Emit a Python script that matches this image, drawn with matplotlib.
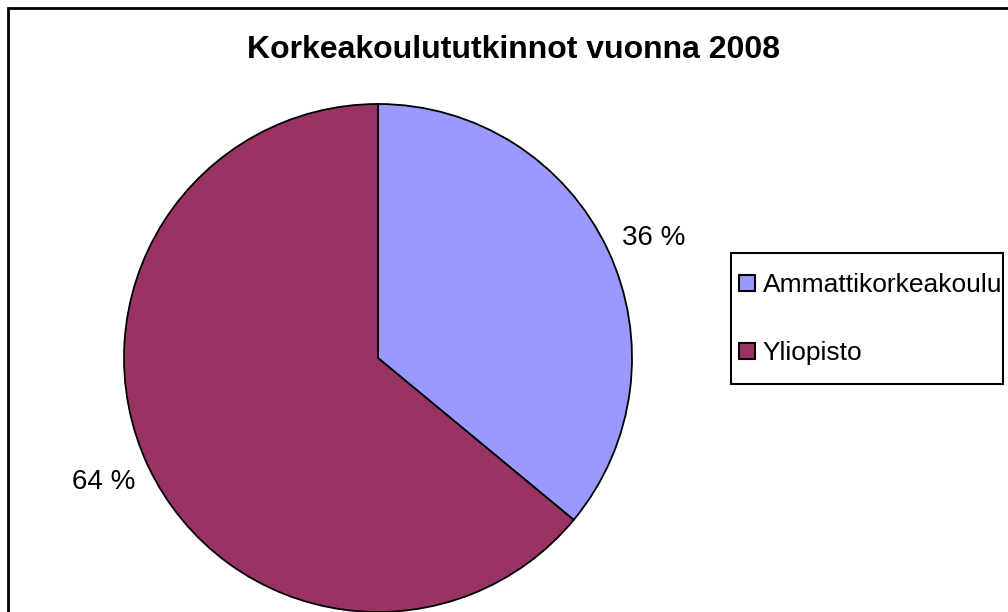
import matplotlib.pyplot as plt
from matplotlib.patches import Rectangle
from matplotlib.lines import Line2D

plt.rcParams['font.family'] = ['Liberation Sans', 'DejaVu Sans']

categories = ['Ammattikorkeakoulu', 'Yliopisto']
shares = [36, 64]
colors = ['#9999FF', '#993366']
pct_labels = ['36 %', '64 %']

W, H = 1008, 612
fig = plt.figure(figsize=(W / 100, H / 100), dpi=100)

# pie centre ~ (378, 358) px, radius ~254 px
cx, cy, r = 378, 358, 254
ax = fig.add_axes([(cx - r) / W, (H - cy - r) / H, 2 * r / W, 2 * r / H])
wedges, _ = ax.pie(shares, colors=colors, startangle=90, counterclock=False,
                   wedgeprops=dict(edgecolor='black', linewidth=1.3))
ax.set_xlim(-1, 1)
ax.set_ylim(-1, 1)
ax.set_aspect('equal')
for w in wedges:
    w.set_clip_on(False)

# percentage labels, outside the slices
ax.text(1.087, 0.472, pct_labels[0], fontsize=20, ha='center', va='center')
ax.text(-1.08, -0.49, pct_labels[1], fontsize=20, ha='center', va='center')

fig.text(514 / W, 1 - 50 / H, 'Korkeakoulututkinnot vuonna 2008',
         fontsize=23, fontweight='bold', ha='center', va='center')

# legend: square markers, frame drawn separately
handles = [Line2D([], [], linestyle='none', marker='s', markersize=11,
                  markerfacecolor=c, markeredgecolor='black',
                  markeredgewidth=1.5) for c in colors]
fig.legend(handles, categories, loc='center left',
           bbox_to_anchor=(739 / W, 1 - 319 / H),
           fontsize=19, frameon=False, handlelength=0.6,
           handletextpad=0.3, labelspacing=1.65, borderpad=0,
           borderaxespad=0)
fig.patches.append(Rectangle((731 / W, 1 - 384 / H), (1003 - 731) / W,
                             (384 - 253) / H, transform=fig.transFigure,
                             fill=False, edgecolor='black', linewidth=1.5))

# outer chart border (right and bottom run off the image)
fig.patches.append(Rectangle((8 / W, -0.05), 1.05, 1.05 - 8 / H,
                             transform=fig.transFigure, fill=False,
                             edgecolor='black', linewidth=2))

fig.savefig('out.png', dpi=100)
